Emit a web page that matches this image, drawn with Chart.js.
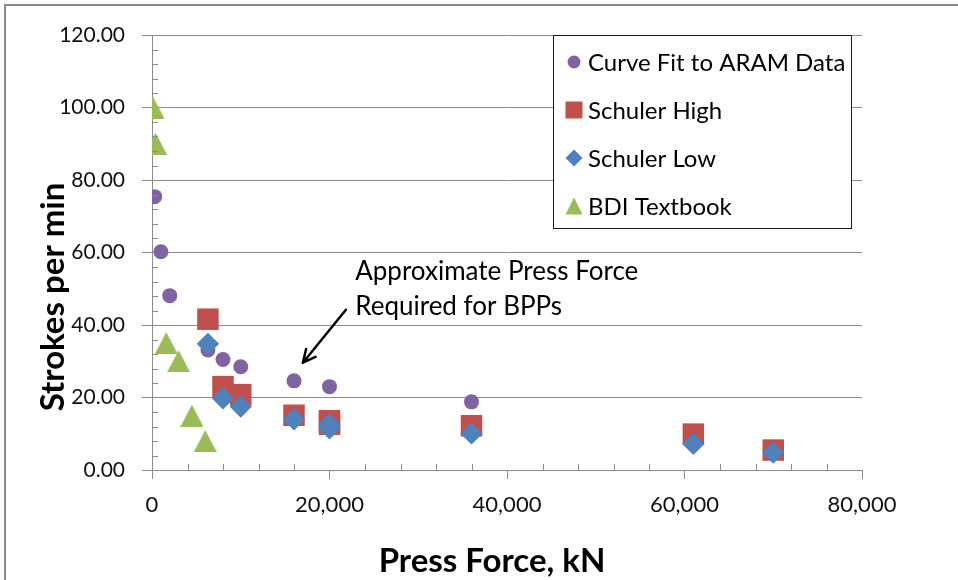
<!DOCTYPE html>
<html>
<head>
<meta charset="utf-8">
<script src="https://cdn.jsdelivr.net/npm/chart.js@4.4.1/dist/chart.umd.min.js"></script>
<style>
  html, body { margin: 0; padding: 0; background: #fff; }
  #wrap { position: relative; width: 958px; height: 580px; }
</style>
</head>
<body>
<div id="wrap"><canvas id="pressChart" width="958" height="580"></canvas></div>
<script>
// press force (kN) vs strokes per minute
const aramForce = [300, 1000, 2000, 6300, 8000, 10000, 16000, 20000, 36000]
const aramSpm = [75.4, 60.2, 48.1, 33.1, 30.5, 28.5, 24.6, 23.0, 18.8]

const highForce = [6300, 8000, 10000, 16000, 20000, 20000, 36000, 61000, 70000]
const highSpm = [41.6, 23.0, 20.8, 15.1, 13.6, 12.6, 12.2, 9.9, 5.5]

const lowForce = [6300, 8000, 10000, 16000, 20000, 20000, 36000, 61000, 70000]
const lowSpm = [34.8, 19.8, 17.5, 14.0, 12.6, 11.5, 10.1, 7.2, 4.8]

const bdiForce = [100, 400, 1600, 3000, 4500, 6000]
const bdiSpm = [100, 90, 35, 30, 15, 8]

const seriesNames = ['Curve Fit to ARAM Data', 'Schuler High', 'Schuler Low', 'BDI Textbook']
const xTickValues = [0, 20000, 40000, 60000, 80000]
const yTickValues = [0, 20, 40, 60, 80, 100, 120]
const noteLines = ['Approximate Press Force', 'Required for BPPs']

const FONT = 'Lato, "Open Sans", sans-serif'
const AXIS_GRAY = '#8c8c8c'

const zip = (xs, ys) => xs.map((x, i) => ({x: x, y: ys[i]}))

// Excel-style triangle: drawn into a small canvas so the marker is centred on its box
const triangleMarker = (w, h, color) => {
    const c = document.createElement('canvas')
    c.width = w
    c.height = h
    const g = c.getContext('2d')
    g.fillStyle = color
    g.beginPath()
    g.moveTo(w / 2, 0)
    g.lineTo(w, h)
    g.lineTo(0, h)
    g.closePath()
    g.fill()
    return c
}

const colors = ['#8064A2', '#C0504D', '#4F81BD', '#9BBB59']

const drawMarker = (ctx, kind, x, y, size, color) => {
    ctx.save()
    ctx.fillStyle = color
    ctx.beginPath()
    if (kind === 'circle') {
        ctx.arc(x, y, size * 0.38, 0, Math.PI * 2)
    } else if (kind === 'rect') {
        ctx.rect(x - size / 2, y - size / 2, size, size)
    } else if (kind === 'rectRot') {
        ctx.moveTo(x - size / 2, y)
        ctx.lineTo(x, y - size / 2)
        ctx.lineTo(x + size / 2, y)
        ctx.lineTo(x, y + size / 2)
        ctx.closePath()
    } else {
        ctx.moveTo(x, y - size / 2)
        ctx.lineTo(x + size / 2, y + size / 2)
        ctx.lineTo(x - size / 2, y + size / 2)
        ctx.closePath()
    }
    ctx.fill()
    ctx.restore()
}

const extrasPlugin = {
    id: 'extras',
    beforeDraw(chart) {
        const ctx = chart.ctx
        ctx.save()
        ctx.fillStyle = '#fff'
        ctx.fillRect(0, 0, chart.width, chart.height)
        // outer chart frame (only top and left edges show in the picture)
        ctx.fillStyle = '#8a8a8a'
        ctx.fillRect(4, 4, chart.width - 4, 2)
        ctx.fillRect(4, 4, 2, chart.height - 4)
        ctx.restore()
    },
    afterDraw(chart, args, opts) {
        const ctx = chart.ctx
        const xs = chart.scales.x
        const ys = chart.scales.y
        const area = chart.chartArea

        // minor tick marks pointing into the plot
        ctx.save()
        ctx.strokeStyle = AXIS_GRAY
        ctx.lineWidth = 1
        ctx.beginPath()
        for (let v = ys.min; v <= ys.max; v += opts.yMinor) {
            if (v % 20 === 0) continue
            const py = Math.round(ys.getPixelForValue(v)) + 0.5
            ctx.moveTo(area.left, py)
            ctx.lineTo(area.left + 6, py)
        }
        for (let v = xs.min; v <= xs.max; v += opts.xMinor) {
            if (v % 20000 === 0) continue
            const px = Math.round(xs.getPixelForValue(v)) + 0.5
            ctx.moveTo(px, area.bottom)
            ctx.lineTo(px, area.bottom - 6)
        }
        ctx.stroke()
        ctx.restore()

        // axis titles
        ctx.save()
        ctx.fillStyle = '#000'
        ctx.font = 'bold 33px ' + FONT
        ctx.textAlign = 'center'
        ctx.textBaseline = 'middle'
        ctx.fillText('Press Force, kN', opts.xTitle[0], opts.xTitle[1])
        ctx.translate(opts.yTitle[0], opts.yTitle[1])
        ctx.rotate(-Math.PI / 2)
        ctx.fillText('Strokes per min', 0, 0)
        ctx.restore()

        // note with arrow
        ctx.save()
        ctx.fillStyle = '#000'
        ctx.font = '26px ' + FONT
        ctx.textBaseline = 'alphabetic'
        const nx = xs.getPixelForValue(opts.note.x)
        noteLines.forEach((line, i) => {
            ctx.fillText(line, nx, ys.getPixelForValue(opts.note.y[i]))
        })
        const ax0 = xs.getPixelForValue(opts.arrow.from[0])
        const ay0 = ys.getPixelForValue(opts.arrow.from[1])
        const ax1 = xs.getPixelForValue(opts.arrow.to[0])
        const ay1 = ys.getPixelForValue(opts.arrow.to[1])
        const ang = Math.atan2(ay1 - ay0, ax1 - ax0)
        ctx.strokeStyle = '#000'
        ctx.lineWidth = 2.5
        ctx.lineCap = 'round'
        ctx.lineJoin = 'round'
        ctx.beginPath()
        ctx.moveTo(ax0, ay0)
        ctx.lineTo(ax1, ay1)
        ctx.moveTo(ax1 - 14 * Math.cos(ang - 0.45), ay1 - 14 * Math.sin(ang - 0.45))
        ctx.lineTo(ax1, ay1)
        ctx.lineTo(ax1 - 14 * Math.cos(ang + 0.45), ay1 - 14 * Math.sin(ang + 0.45))
        ctx.stroke()
        ctx.restore()

        // legend box inside the plot
        const lg = opts.legend
        ctx.save()
        ctx.fillStyle = '#fff'
        ctx.fillRect(lg.left, lg.top, lg.width, lg.height)
        ctx.strokeStyle = '#1a1a1a'
        ctx.lineWidth = 1
        ctx.strokeRect(lg.left + 0.5, lg.top + 0.5, lg.width, lg.height)
        ctx.font = '24px ' + FONT
        ctx.textBaseline = 'middle'
        ctx.fillStyle = '#000'
        chart.data.datasets.forEach((ds, i) => {
            const cy = lg.top + lg.firstRow + i * lg.rowGap
            drawMarker(ctx, lg.kinds[i], lg.left + 21, cy, 17, ds.backgroundColor)
            ctx.fillStyle = '#000'
            ctx.fillText(ds.label, lg.left + 35, cy + 1)
        })
        ctx.restore()
    }
}

const ctx = document.getElementById('pressChart').getContext('2d')

const chart = new Chart(ctx, {
    type: 'scatter',
    data: {
        datasets: [
            {
                label: seriesNames[0],
                data: zip(aramForce, aramSpm),
                backgroundColor: colors[0],
                pointStyle: 'circle',
                pointRadius: 7.5,
                borderWidth: 0,
                order: 3
            },
            {
                label: seriesNames[1],
                data: zip(highForce, highSpm),
                backgroundColor: colors[1],
                pointStyle: 'rect',
                pointRadius: 15.2,
                borderWidth: 0,
                order: 2
            },
            {
                label: seriesNames[2],
                data: zip(lowForce, lowSpm),
                backgroundColor: colors[2],
                pointStyle: 'rectRot',
                pointRadius: 11.2,
                borderWidth: 0,
                order: 1
            },
            {
                label: seriesNames[3],
                data: zip(bdiForce, bdiSpm),
                backgroundColor: colors[3],
                pointStyle: triangleMarker(23, 22, colors[3]),
                pointRadius: 12,
                borderWidth: 0,
                order: 0
            }
        ]
    },
    options: {
        responsive: false,
        animation: false,
        devicePixelRatio: 1,
        events: [],
        layout: {padding: {top: 35, right: 96, left: 0, bottom: 0}},
        plugins: {
            legend: {display: false},
            tooltip: {enabled: false},
            extras: {
                xMinor: 4000,
                yMinor: 4,
                xTitle: [492, 561],
                yTitle: [53, 297],
                note: {x: 22900, y: [52.4, 42.8]},
                arrow: {from: [21850, 44.2], to: [17000, 29.6]},
                legend: {
                    left: 553, top: 35, width: 298, height: 193,
                    firstRow: 27, rowGap: 48,
                    kinds: ['circle', 'rect', 'rectRot', 'triangle']
                }
            }
        },
        scales: {
            x: {
                type: 'linear',
                min: 0,
                max: 80000,
                afterBuildTicks: s => { s.ticks = xTickValues.map(v => ({value: v})) },
                afterFit: s => { s.height = 110 },
                ticks: {
                    callback: v => v.toLocaleString('en-US'),
                    font: {family: FONT, size: 22},
                    color: '#111',
                    padding: 13,
                    maxRotation: 0
                },
                grid: {drawOnChartArea: false, color: AXIS_GRAY, tickLength: 9},
                border: {color: AXIS_GRAY}
            },
            y: {
                min: 0,
                max: 120,
                afterBuildTicks: s => { s.ticks = yTickValues.map(v => ({value: v})) },
                afterFit: s => { s.width = 152 },
                ticks: {
                    callback: v => v.toFixed(2),
                    font: {family: FONT, size: 21},
                    color: '#111',
                    padding: 17
                },
                grid: {color: AXIS_GRAY, tickLength: 10},
                border: {color: AXIS_GRAY}
            }
        }
    },
    plugins: [extrasPlugin]
})
</script>
</body>
</html>
